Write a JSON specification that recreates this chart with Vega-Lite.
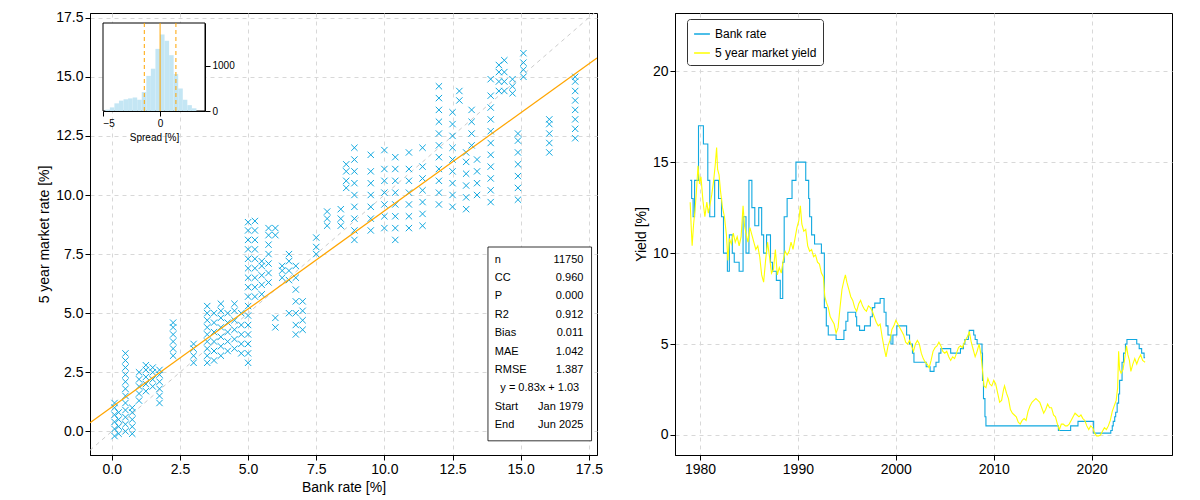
{
"$schema":"https://vega.github.io/schema/vega-lite/v6.json",
"padding":{"left":37,"top":10,"right":5,"bottom":5},
"config":{"font":"Liberation Sans","view":{"stroke":"black","strokeWidth":1},
 "axis":{"domainColor":"black","tickColor":"black","labelFontSize":14,"titleFontSize":14,"titleFontWeight":"normal","labelColor":"black","titleColor":"black","gridDash":[4,4],"gridColor":"#d8d8d8","gridOpacity":1}},
"spacing":30,
"datasets":{
"sc":[
{"b":0.1,"y":-0.2},{"b":0.1,"y":0.1},{"b":0.1,"y":0.4},{"b":0.1,"y":0.7},{"b":0.1,"y":1.0},{"b":0.1,"y":1.2},
{"b":0.25,"y":-0.1},{"b":0.25,"y":0.2},{"b":0.25,"y":0.5},{"b":0.25,"y":0.8},
{"b":0.5,"y":0.0},{"b":0.5,"y":0.3},{"b":0.5,"y":0.6},{"b":0.5,"y":0.9},{"b":0.5,"y":1.2},{"b":0.5,"y":1.5},{"b":0.5,"y":1.8},{"b":0.5,"y":2.1},{"b":0.5,"y":2.4},{"b":0.5,"y":2.7},{"b":0.5,"y":3.0},{"b":0.5,"y":3.3},
{"b":0.75,"y":-0.1},{"b":0.75,"y":0.2},{"b":0.75,"y":0.5},{"b":0.75,"y":0.8},{"b":0.75,"y":1.0},
{"b":1.0,"y":1.3},{"b":1.0,"y":1.6},{"b":1.0,"y":1.9},{"b":1.0,"y":2.2},{"b":1.0,"y":2.5},
{"b":1.25,"y":1.7},{"b":1.25,"y":2.0},{"b":1.25,"y":2.3},{"b":1.25,"y":2.6},{"b":1.25,"y":2.8},
{"b":1.5,"y":1.9},{"b":1.5,"y":2.2},{"b":1.5,"y":2.5},{"b":1.5,"y":2.7},
{"b":1.75,"y":1.2},{"b":1.75,"y":1.5},{"b":1.75,"y":1.8},{"b":1.75,"y":2.1},{"b":1.75,"y":2.4},{"b":1.75,"y":2.6},
{"b":2.25,"y":3.2},{"b":2.25,"y":3.5},{"b":2.25,"y":3.8},{"b":2.25,"y":4.1},{"b":2.25,"y":4.4},{"b":2.25,"y":4.6},
{"b":3.0,"y":2.9},{"b":3.0,"y":3.2},{"b":3.0,"y":3.5},{"b":3.0,"y":3.7},
{"b":3.5,"y":2.9},{"b":3.5,"y":3.2},{"b":3.5,"y":3.5},{"b":3.5,"y":3.8},{"b":3.5,"y":4.1},{"b":3.5,"y":4.4},{"b":3.5,"y":4.7},{"b":3.5,"y":5.0},{"b":3.5,"y":5.3},
{"b":3.75,"y":3.0},{"b":3.75,"y":3.4},{"b":3.75,"y":3.8},{"b":3.75,"y":4.2},{"b":3.75,"y":4.6},{"b":3.75,"y":5.0},
{"b":4.0,"y":3.2},{"b":4.0,"y":3.6},{"b":4.0,"y":4.0},{"b":4.0,"y":4.4},{"b":4.0,"y":4.8},{"b":4.0,"y":5.1},{"b":4.0,"y":5.4},
{"b":4.25,"y":3.4},{"b":4.25,"y":3.8},{"b":4.25,"y":4.2},{"b":4.25,"y":4.6},{"b":4.25,"y":5.0},
{"b":4.5,"y":3.5},{"b":4.5,"y":3.9},{"b":4.5,"y":4.3},{"b":4.5,"y":4.7},{"b":4.5,"y":5.1},{"b":4.5,"y":5.4},
{"b":4.75,"y":3.3},{"b":4.75,"y":3.7},{"b":4.75,"y":4.1},{"b":4.75,"y":4.5},{"b":4.75,"y":5.0},
{"b":5.0,"y":2.9},{"b":5.0,"y":3.3},{"b":5.0,"y":3.7},{"b":5.0,"y":4.1},{"b":5.0,"y":4.5},{"b":5.0,"y":4.9},{"b":5.0,"y":5.3},{"b":5.0,"y":5.7},{"b":5.0,"y":6.1},{"b":5.0,"y":6.5},{"b":5.0,"y":6.9},{"b":5.0,"y":7.3},{"b":5.0,"y":7.7},{"b":5.0,"y":8.1},{"b":5.0,"y":8.5},{"b":5.0,"y":8.85},
{"b":5.25,"y":5.7},{"b":5.25,"y":6.1},{"b":5.25,"y":6.5},{"b":5.25,"y":6.9},{"b":5.25,"y":7.3},{"b":5.25,"y":7.7},{"b":5.25,"y":8.1},{"b":5.25,"y":8.5},{"b":5.25,"y":8.9},
{"b":5.5,"y":5.8},{"b":5.5,"y":6.2},{"b":5.5,"y":6.6},{"b":5.5,"y":7.0},{"b":5.5,"y":7.2},
{"b":5.75,"y":6.3},{"b":5.75,"y":6.7},{"b":5.75,"y":7.1},{"b":5.75,"y":7.5},{"b":5.75,"y":7.9},{"b":5.75,"y":8.3},{"b":5.75,"y":8.6},
{"b":6.0,"y":4.4},{"b":6.0,"y":4.8},{"b":6.0,"y":8.3},{"b":6.0,"y":8.6},
{"b":6.25,"y":6.5},{"b":6.25,"y":6.8},{"b":6.25,"y":7.0},
{"b":6.5,"y":6.4},{"b":6.5,"y":6.8},{"b":6.5,"y":7.2},{"b":6.5,"y":7.5},{"b":6.5,"y":5.0},
{"b":6.75,"y":4.1},{"b":6.75,"y":4.5},{"b":6.75,"y":5.0},{"b":6.75,"y":5.5},{"b":6.75,"y":6.0},{"b":6.75,"y":6.5},{"b":6.75,"y":7.0},
{"b":7.0,"y":4.3},{"b":7.0,"y":4.7},{"b":7.0,"y":5.1},{"b":7.0,"y":5.5},
{"b":7.5,"y":7.5},{"b":7.5,"y":7.8},{"b":7.5,"y":8.2},
{"b":7.9,"y":8.7},{"b":7.9,"y":9.0},{"b":7.9,"y":9.3},
{"b":8.4,"y":8.7},{"b":8.4,"y":9.0},{"b":8.4,"y":9.4},
{"b":8.6,"y":10.3},{"b":8.6,"y":10.6},{"b":8.6,"y":11.0},{"b":8.6,"y":11.3},
{"b":8.9,"y":8.1},{"b":8.9,"y":8.5},{"b":8.9,"y":9.0},{"b":8.9,"y":9.5},{"b":8.9,"y":10.0},{"b":8.9,"y":10.5},{"b":8.9,"y":11.0},{"b":8.9,"y":11.5},{"b":8.9,"y":12.0},
{"b":9.5,"y":8.5},{"b":9.5,"y":9.0},{"b":9.5,"y":9.5},{"b":9.5,"y":10.0},{"b":9.5,"y":10.5},{"b":9.5,"y":11.0},{"b":9.5,"y":11.7},
{"b":10.0,"y":8.6},{"b":10.0,"y":9.1},{"b":10.0,"y":9.6},{"b":10.0,"y":10.1},{"b":10.0,"y":10.6},{"b":10.0,"y":11.1},{"b":10.0,"y":11.9},
{"b":10.4,"y":8.1},{"b":10.4,"y":8.6},{"b":10.4,"y":9.1},{"b":10.4,"y":9.6},{"b":10.4,"y":10.1},{"b":10.4,"y":10.6},{"b":10.4,"y":11.1},{"b":10.4,"y":11.6},
{"b":10.9,"y":8.6},{"b":10.9,"y":9.1},{"b":10.9,"y":9.6},{"b":10.9,"y":10.1},{"b":10.9,"y":10.6},{"b":10.9,"y":11.1},{"b":10.9,"y":11.8},
{"b":11.4,"y":8.7},{"b":11.4,"y":9.2},{"b":11.4,"y":9.7},{"b":11.4,"y":10.2},{"b":11.4,"y":10.7},{"b":11.4,"y":11.2},{"b":11.4,"y":12.0},
{"b":12.0,"y":9.6},{"b":12.0,"y":10.1},{"b":12.0,"y":10.6},{"b":12.0,"y":11.1},{"b":12.0,"y":11.6},{"b":12.0,"y":12.1},{"b":12.0,"y":12.6},{"b":12.0,"y":13.1},{"b":12.0,"y":13.6},{"b":12.0,"y":14.1},{"b":12.0,"y":14.6},
{"b":12.5,"y":9.5},{"b":12.5,"y":10.0},{"b":12.5,"y":10.5},{"b":12.5,"y":11.0},{"b":12.5,"y":11.5},{"b":12.5,"y":12.0},{"b":12.5,"y":12.5},{"b":12.5,"y":13.0},{"b":12.5,"y":13.5},
{"b":12.75,"y":14.0},{"b":12.75,"y":14.4},
{"b":13.0,"y":9.4},{"b":13.0,"y":9.9},{"b":13.0,"y":10.4},{"b":13.0,"y":10.9},{"b":13.0,"y":11.4},{"b":13.0,"y":11.8},
{"b":13.2,"y":12.1},{"b":13.2,"y":12.6},{"b":13.2,"y":13.1},{"b":13.2,"y":13.6},
{"b":13.4,"y":10.0},{"b":13.4,"y":10.5},{"b":13.4,"y":11.0},{"b":13.4,"y":11.5},
{"b":13.9,"y":9.7},{"b":13.9,"y":10.2},{"b":13.9,"y":10.7},{"b":13.9,"y":11.2},{"b":13.9,"y":11.7},{"b":13.9,"y":12.2},{"b":13.9,"y":12.7},{"b":13.9,"y":13.2},{"b":13.9,"y":13.7},{"b":13.9,"y":14.2},{"b":13.9,"y":14.9},
{"b":14.2,"y":14.4},{"b":14.2,"y":14.8},{"b":14.2,"y":15.2},{"b":14.2,"y":15.5},
{"b":14.4,"y":14.4},{"b":14.4,"y":14.8},{"b":14.4,"y":15.2},{"b":14.4,"y":15.7},
{"b":14.7,"y":14.3},{"b":14.7,"y":14.6},{"b":14.7,"y":14.9},
{"b":14.9,"y":9.8},{"b":14.9,"y":10.3},{"b":14.9,"y":10.8},{"b":14.9,"y":11.3},{"b":14.9,"y":11.8},{"b":14.9,"y":12.3},{"b":14.9,"y":12.6},
{"b":15.1,"y":15.0},{"b":15.1,"y":15.3},{"b":15.1,"y":15.6},{"b":15.1,"y":16.0},
{"b":16.05,"y":11.8},{"b":16.05,"y":12.2},{"b":16.05,"y":12.6},{"b":16.05,"y":13.0},{"b":16.05,"y":13.2},
{"b":17.0,"y":12.4},{"b":17.0,"y":12.8},{"b":17.0,"y":13.2},{"b":17.0,"y":13.6},{"b":17.0,"y":14.0},{"b":17.0,"y":14.4},{"b":17.0,"y":14.8},{"b":17.0,"y":15.0}
],
"hist":[
{"s0":-4.8,"s1":-4.4,"c":30},{"s0":-4.4,"s1":-4.0,"c":80},{"s0":-4.0,"s1":-3.6,"c":170},{"s0":-3.6,"s1":-3.2,"c":230},{"s0":-3.2,"s1":-2.8,"c":260},{"s0":-2.8,"s1":-2.4,"c":280},{"s0":-2.4,"s1":-2.0,"c":300},{"s0":-2.0,"s1":-1.6,"c":250},{"s0":-1.6,"s1":-1.2,"c":420},{"s0":-1.2,"s1":-0.8,"c":780},{"s0":-0.8,"s1":-0.4,"c":940},{"s0":-0.4,"s1":0.0,"c":1380},{"s0":0.0,"s1":0.4,"c":1700},{"s0":0.4,"s1":0.8,"c":1560},{"s0":0.8,"s1":1.2,"c":1240},{"s0":1.2,"s1":1.6,"c":820},{"s0":1.6,"s1":2.0,"c":500},{"s0":2.0,"s1":2.4,"c":250},{"s0":2.4,"s1":2.8,"c":130},{"s0":2.8,"s1":3.2,"c":60}
],
"stats":[
{"k":"n","v":"11750","y":7.27},{"k":"CC","v":"0.960","y":6.49},{"k":"P","v":"0.000","y":5.71},{"k":"R2","v":"0.912","y":4.93},{"k":"Bias","v":"0.011","y":4.15},{"k":"MAE","v":"1.042","y":3.37},{"k":"RMSE","v":"1.387","y":2.6},{"k":"Start","v":"Jan 1979","y":1.04},{"k":"End","v":"Jun 2025","y":0.26}
],
"bank":[
{"t":1979.0,"r":14},{"t":1979.15,"r":13},{"t":1979.3,"r":12},{"t":1979.45,"r":14},{"t":1979.85,"r":17},{"t":1980.35,"r":16},{"t":1980.8,"r":14},{"t":1981.0,"r":12},{"t":1981.5,"r":14},{"t":1981.9,"r":13},{"t":1982.2,"r":12},{"t":1982.4,"r":10},{"t":1982.8,"r":9},{"t":1983.0,"r":11},{"t":1983.3,"r":10},{"t":1983.5,"r":9.5},{"t":1984.0,"r":9},{"t":1984.4,"r":12},{"t":1984.7,"r":10},{"t":1985.0,"r":14},{"t":1985.3,"r":12.5},{"t":1985.6,"r":11.5},{"t":1986.0,"r":12.5},{"t":1986.3,"r":11},{"t":1986.5,"r":10},{"t":1986.8,"r":11},{"t":1987.2,"r":9.5},{"t":1987.4,"r":9},{"t":1987.8,"r":8.5},{"t":1988.2,"r":7.5},{"t":1988.45,"r":9.5},{"t":1988.6,"r":12},{"t":1988.9,"r":13},{"t":1989.4,"r":14},{"t":1989.8,"r":15},{"t":1990.8,"r":14},{"t":1991.1,"r":13},{"t":1991.2,"r":12},{"t":1991.4,"r":11},{"t":1991.7,"r":10.5},{"t":1992.4,"r":10},{"t":1992.7,"r":7},{"t":1992.9,"r":6},{"t":1993.1,"r":5.5},{"t":1993.9,"r":5.25},{"t":1994.7,"r":5.75},{"t":1994.9,"r":6.25},{"t":1995.1,"r":6.75},{"t":1995.9,"r":6.5},{"t":1996.0,"r":6},{"t":1996.3,"r":5.75},{"t":1996.8,"r":6},{"t":1997.4,"r":6.5},{"t":1997.6,"r":7},{"t":1997.85,"r":7.25},{"t":1998.4,"r":7.5},{"t":1998.8,"r":6.75},{"t":1999.0,"r":6},{"t":1999.2,"r":5.5},{"t":1999.5,"r":5},{"t":1999.7,"r":5.5},{"t":2000.1,"r":6},{"t":2001.1,"r":5.5},{"t":2001.4,"r":5},{"t":2001.7,"r":4.5},{"t":2001.85,"r":4},{"t":2003.1,"r":3.75},{"t":2003.5,"r":3.5},{"t":2003.9,"r":3.75},{"t":2004.1,"r":4},{"t":2004.4,"r":4.5},{"t":2004.6,"r":4.75},{"t":2005.6,"r":4.5},{"t":2006.6,"r":4.75},{"t":2006.9,"r":5},{"t":2007.05,"r":5.25},{"t":2007.4,"r":5.5},{"t":2007.5,"r":5.75},{"t":2007.95,"r":5.5},{"t":2008.1,"r":5.25},{"t":2008.3,"r":5},{"t":2008.8,"r":4.5},{"t":2008.85,"r":3},{"t":2008.95,"r":2},{"t":2009.1,"r":1},{"t":2009.2,"r":0.5},{"t":2016.6,"r":0.25},{"t":2017.85,"r":0.5},{"t":2018.6,"r":0.75},{"t":2020.2,"r":0.1},{"t":2021.95,"r":0.25},{"t":2022.1,"r":0.5},{"t":2022.2,"r":0.75},{"t":2022.35,"r":1},{"t":2022.45,"r":1.25},{"t":2022.6,"r":1.75},{"t":2022.75,"r":2.25},{"t":2022.85,"r":3},{"t":2023.1,"r":4},{"t":2023.25,"r":4.5},{"t":2023.45,"r":5},{"t":2023.6,"r":5.25},{"t":2024.6,"r":5},{"t":2024.85,"r":4.75},{"t":2025.1,"r":4.5},{"t":2025.35,"r":4.25},{"t":2025.45,"r":4.25}
],
"yld":[
{"t":1979.0,"v":12.8},{"t":1979.1,"v":11.5},{"t":1979.2,"v":10.4},{"t":1979.35,"v":11.6},{"t":1979.5,"v":12.4},{"t":1979.65,"v":13.5},{"t":1979.8,"v":14.8},{"t":1979.95,"v":13.8},{"t":1980.1,"v":14.2},{"t":1980.3,"v":12.9},{"t":1980.5,"v":12.0},{"t":1980.7,"v":12.8},{"t":1980.85,"v":12.2},{"t":1981.0,"v":12.6},{"t":1981.2,"v":13.2},{"t":1981.4,"v":14.0},{"t":1981.55,"v":14.8},{"t":1981.7,"v":15.8},{"t":1981.8,"v":14.6},{"t":1981.95,"v":14.3},{"t":1982.1,"v":13.4},{"t":1982.3,"v":12.5},{"t":1982.5,"v":12.0},{"t":1982.7,"v":11.0},{"t":1982.85,"v":9.6},{"t":1983.0,"v":10.8},{"t":1983.2,"v":10.5},{"t":1983.4,"v":11.1},{"t":1983.6,"v":10.6},{"t":1983.8,"v":10.9},{"t":1984.0,"v":10.4},{"t":1984.2,"v":10.9},{"t":1984.4,"v":12.6},{"t":1984.55,"v":11.5},{"t":1984.7,"v":11.1},{"t":1984.9,"v":10.6},{"t":1985.1,"v":11.4},{"t":1985.3,"v":11.0},{"t":1985.5,"v":10.6},{"t":1985.7,"v":10.2},{"t":1985.9,"v":10.4},{"t":1986.1,"v":9.8},{"t":1986.3,"v":8.8},{"t":1986.5,"v":8.4},{"t":1986.7,"v":9.6},{"t":1986.9,"v":10.6},{"t":1987.1,"v":9.8},{"t":1987.3,"v":8.9},{"t":1987.5,"v":9.1},{"t":1987.7,"v":10.2},{"t":1987.9,"v":8.8},{"t":1988.1,"v":9.2},{"t":1988.3,"v":8.9},{"t":1988.5,"v":9.6},{"t":1988.7,"v":10.1},{"t":1988.9,"v":9.9},{"t":1989.1,"v":10.1},{"t":1989.3,"v":10.6},{"t":1989.5,"v":10.2},{"t":1989.7,"v":10.8},{"t":1989.9,"v":11.4},{"t":1990.1,"v":11.8},{"t":1990.25,"v":12.6},{"t":1990.4,"v":11.6},{"t":1990.6,"v":11.2},{"t":1990.8,"v":11.3},{"t":1991.0,"v":10.4},{"t":1991.2,"v":10.1},{"t":1991.4,"v":10.2},{"t":1991.6,"v":9.8},{"t":1991.8,"v":9.9},{"t":1992.0,"v":9.5},{"t":1992.2,"v":9.4},{"t":1992.4,"v":8.9},{"t":1992.6,"v":8.7},{"t":1992.75,"v":7.6},{"t":1992.9,"v":7.3},{"t":1993.1,"v":7.0},{"t":1993.3,"v":6.5},{"t":1993.5,"v":6.3},{"t":1993.7,"v":6.1},{"t":1993.9,"v":5.6},{"t":1994.1,"v":5.9},{"t":1994.3,"v":7.0},{"t":1994.5,"v":8.0},{"t":1994.7,"v":8.5},{"t":1994.85,"v":8.8},{"t":1995.0,"v":8.4},{"t":1995.2,"v":8.0},{"t":1995.4,"v":7.6},{"t":1995.6,"v":7.4},{"t":1995.8,"v":7.0},{"t":1996.0,"v":6.8},{"t":1996.2,"v":7.2},{"t":1996.4,"v":7.4},{"t":1996.6,"v":7.1},{"t":1996.8,"v":6.9},{"t":1997.0,"v":6.8},{"t":1997.2,"v":7.1},{"t":1997.4,"v":7.0},{"t":1997.6,"v":6.8},{"t":1997.8,"v":6.5},{"t":1998.0,"v":6.2},{"t":1998.2,"v":6.0},{"t":1998.4,"v":6.1},{"t":1998.6,"v":5.4},{"t":1998.8,"v":4.8},{"t":1999.0,"v":4.3},{"t":1999.2,"v":4.9},{"t":1999.4,"v":5.2},{"t":1999.6,"v":5.8},{"t":1999.8,"v":6.0},{"t":2000.0,"v":6.3},{"t":2000.2,"v":6.1},{"t":2000.4,"v":5.9},{"t":2000.6,"v":5.7},{"t":2000.8,"v":5.5},{"t":2001.0,"v":5.1},{"t":2001.2,"v":5.0},{"t":2001.4,"v":5.2},{"t":2001.6,"v":4.9},{"t":2001.8,"v":4.6},{"t":2002.0,"v":5.0},{"t":2002.2,"v":5.2},{"t":2002.4,"v":5.0},{"t":2002.6,"v":4.5},{"t":2002.8,"v":4.2},{"t":2003.0,"v":4.0},{"t":2003.2,"v":3.9},{"t":2003.4,"v":3.7},{"t":2003.6,"v":4.1},{"t":2003.8,"v":4.6},{"t":2004.0,"v":4.8},{"t":2004.2,"v":4.9},{"t":2004.4,"v":5.1},{"t":2004.6,"v":4.9},{"t":2004.8,"v":4.6},{"t":2005.0,"v":4.5},{"t":2005.2,"v":4.6},{"t":2005.4,"v":4.3},{"t":2005.6,"v":4.1},{"t":2005.8,"v":4.3},{"t":2006.0,"v":4.2},{"t":2006.2,"v":4.5},{"t":2006.4,"v":4.8},{"t":2006.6,"v":4.9},{"t":2006.8,"v":4.8},{"t":2007.0,"v":5.1},{"t":2007.2,"v":5.3},{"t":2007.4,"v":5.5},{"t":2007.5,"v":5.7},{"t":2007.7,"v":5.1},{"t":2007.9,"v":4.7},{"t":2008.1,"v":4.3},{"t":2008.3,"v":4.6},{"t":2008.5,"v":5.0},{"t":2008.7,"v":4.4},{"t":2008.9,"v":3.3},{"t":2009.0,"v":2.7},{"t":2009.2,"v":2.6},{"t":2009.4,"v":3.1},{"t":2009.6,"v":2.8},{"t":2009.8,"v":2.7},{"t":2010.0,"v":3.0},{"t":2010.2,"v":2.8},{"t":2010.4,"v":2.3},{"t":2010.6,"v":1.8},{"t":2010.8,"v":1.9},{"t":2011.0,"v":2.5},{"t":2011.1,"v":2.7},{"t":2011.3,"v":2.3},{"t":2011.5,"v":2.0},{"t":2011.7,"v":1.4},{"t":2011.9,"v":1.2},{"t":2012.1,"v":1.1},{"t":2012.3,"v":1.0},{"t":2012.5,"v":0.7},{"t":2012.7,"v":0.6},{"t":2012.9,"v":0.8},{"t":2013.1,"v":0.9},{"t":2013.3,"v":0.8},{"t":2013.5,"v":1.3},{"t":2013.7,"v":1.6},{"t":2013.9,"v":1.8},{"t":2014.1,"v":1.9},{"t":2014.3,"v":2.0},{"t":2014.5,"v":1.9},{"t":2014.7,"v":1.8},{"t":2014.9,"v":1.5},{"t":2015.1,"v":1.2},{"t":2015.3,"v":1.4},{"t":2015.5,"v":1.7},{"t":2015.7,"v":1.5},{"t":2015.9,"v":1.5},{"t":2016.1,"v":1.1},{"t":2016.3,"v":1.0},{"t":2016.5,"v":0.6},{"t":2016.7,"v":0.3},{"t":2016.9,"v":0.6},{"t":2017.1,"v":0.6},{"t":2017.3,"v":0.5},{"t":2017.5,"v":0.5},{"t":2017.7,"v":0.6},{"t":2017.9,"v":0.8},{"t":2018.1,"v":1.0},{"t":2018.3,"v":1.2},{"t":2018.5,"v":1.1},{"t":2018.7,"v":1.0},{"t":2018.9,"v":1.1},{"t":2019.1,"v":0.9},{"t":2019.3,"v":0.8},{"t":2019.5,"v":0.5},{"t":2019.7,"v":0.3},{"t":2019.9,"v":0.5},{"t":2020.1,"v":0.4},{"t":2020.3,"v":0.1},{"t":2020.5,"v":-0.05},{"t":2020.7,"v":-0.05},{"t":2020.9,"v":0.0},{"t":2021.1,"v":0.2},{"t":2021.3,"v":0.4},{"t":2021.5,"v":0.3},{"t":2021.7,"v":0.5},{"t":2021.9,"v":0.8},{"t":2022.1,"v":1.3},{"t":2022.3,"v":1.6},{"t":2022.5,"v":1.9},{"t":2022.65,"v":2.6},{"t":2022.75,"v":4.6},{"t":2022.85,"v":3.6},{"t":2023.0,"v":3.4},{"t":2023.2,"v":3.6},{"t":2023.4,"v":4.3},{"t":2023.55,"v":4.9},{"t":2023.7,"v":4.4},{"t":2023.85,"v":4.1},{"t":2024.0,"v":3.5},{"t":2024.2,"v":3.9},{"t":2024.4,"v":4.2},{"t":2024.6,"v":3.9},{"t":2024.8,"v":4.2},{"t":2025.0,"v":4.4},{"t":2025.2,"v":4.1},{"t":2025.45,"v":4.0}
]
},
"hconcat":[
{"width":507,"height":442,
 "layer":[
  {"layer":[
   {"data":{"values":[{"b":-0.8,"y":-0.8},{"b":17.8,"y":17.8}]},"mark":{"type":"line","clip":true,"color":"#cccccc","strokeDash":[4,4],"strokeWidth":1},
    "encoding":{"x":{"field":"b","type":"quantitative"},"y":{"field":"y","type":"quantitative"}}},
   {"data":{"name":"sc"},"mark":{"type":"point","shape":"M-1,-1L1,1M-1,1L1,-1","filled":false,"size":40,"strokeWidth":1,"color":"#10a8e0","opacity":1},
    "encoding":{"x":{"field":"b","type":"quantitative","scale":{"domain":[-0.8,17.8],"nice":false,"zero":false},"axis":{"title":"Bank rate [%]","values":[0,2.5,5,7.5,10,12.5,15,17.5],"format":".1f","grid":true}},
     "y":{"field":"y","type":"quantitative","scale":{"domain":[-1,17.7],"nice":false,"zero":false},"axis":{"title":"5 year market rate [%]","values":[0,2.5,5,7.5,10,12.5,15,17.5],"format":".1f","grid":true}}}},
   {"data":{"values":[{"b":-0.8,"y":0.366},{"b":17.8,"y":15.8}]},"mark":{"type":"line","clip":true,"color":"#ffa500","strokeWidth":1.3},
    "encoding":{"x":{"field":"b","type":"quantitative"},"y":{"field":"y","type":"quantitative"}}},
   {"data":{"values":[{}]},"mark":{"type":"rect","fill":"white","stroke":"black","strokeWidth":0.8},
    "encoding":{"x":{"datum":13.8},"x2":{"datum":17.6},"y":{"datum":-0.4},"y2":{"datum":7.8}}},
   {"data":{"name":"stats"},"mark":{"type":"text","align":"left","fontSize":11,"baseline":"middle"},
    "encoding":{"x":{"datum":14.05},"y":{"field":"y","type":"quantitative"},"text":{"field":"k"}}},
   {"data":{"name":"stats"},"mark":{"type":"text","align":"right","fontSize":11,"baseline":"middle"},
    "encoding":{"x":{"datum":17.3},"y":{"field":"y","type":"quantitative"},"text":{"field":"v"}}},
   {"data":{"values":[{"t":"y = 0.83x + 1.03","y":1.82}]},"mark":{"type":"text","align":"center","fontSize":11,"baseline":"middle"},
    "encoding":{"x":{"datum":15.7},"y":{"field":"y","type":"quantitative"},"text":{"field":"t"}}}
  ]},
  {"layer":[
   {"data":{"values":[{}]},"mark":{"type":"rect","fill":"white","stroke":"black","strokeWidth":1},
    "encoding":{"x":{"datum":-5},"x2":{"datum":3.95},"y":{"datum":0},"y2":{"datum":1955}}},
   {"data":{"name":"hist"},"mark":{"type":"rect","color":"#c4e6f4"},
    "encoding":{"x":{"field":"s0","type":"quantitative","scale":{"domain":[-5,3.95],"range":[13,115],"nice":false,"zero":false},
      "axis":{"orient":"bottom","offset":-344,"values":[-5,0],"format":"d","grid":false,"labelFontSize":10,"titleFontSize":10,"title":"Spread [%]","titlePadding":4}},
     "x2":{"field":"s1"},
     "y":{"field":"c","type":"quantitative","scale":{"domain":[0,1955],"range":[98,10],"nice":false},
      "axis":{"orient":"right","offset":-392,"values":[0,1000],"format":"d","grid":false,"labelFontSize":10,"title":null}},
     "y2":{"datum":0}}},
   {"data":{"values":[{"s":-1.376},{"s":1.398}]},"mark":{"type":"rule","color":"#ffa500","strokeDash":[4,3],"strokeWidth":1},
    "encoding":{"x":{"field":"s","type":"quantitative"},"y":{"datum":0},"y2":{"datum":1955}}},
   {"data":{"values":[{"s":0.011}]},"mark":{"type":"rule","color":"#ffa500","strokeWidth":1},
    "encoding":{"x":{"field":"s","type":"quantitative"},"y":{"datum":0},"y2":{"datum":1955}}}
  ]}
 ],
 "resolve":{"scale":{"x":"independent","y":"independent"},"axis":{"x":"independent","y":"independent"}}
},
{"width":497,"height":442,
 "layer":[
  {"data":{"name":"bank"},"mark":{"type":"line","interpolate":"step-after","strokeWidth":1.1},
   "encoding":{"x":{"field":"t","type":"quantitative","scale":{"domain":[1977.45,2028.2],"nice":false,"zero":false},"axis":{"title":null,"values":[1980,1990,2000,2010,2020],"format":"d","grid":true}},
    "y":{"field":"r","type":"quantitative","scale":{"domain":[-1.1,23.2],"nice":false,"zero":false},"axis":{"title":"Yield [%]","values":[0,5,10,15,20],"grid":true}},
    "color":{"datum":"Bank rate","type":"nominal"}}},
  {"data":{"name":"yld"},"mark":{"type":"line","strokeWidth":1.1},
   "encoding":{"x":{"field":"t","type":"quantitative"},"y":{"field":"v","type":"quantitative"},
    "color":{"datum":"5 year market yield","type":"nominal","scale":{"domain":["Bank rate","5 year market yield"],"range":["#10a8e0","#ffff00"]},
     "legend":{"title":null,"orient":"none","legendX":597,"legendY":6,"strokeColor":"#333","fillColor":"white","padding":6,"cornerRadius":3,"labelFontSize":12,"symbolType":"stroke","symbolStrokeWidth":1.5,"symbolSize":250,"rowPadding":4}}}}
 ]
}
]
}
